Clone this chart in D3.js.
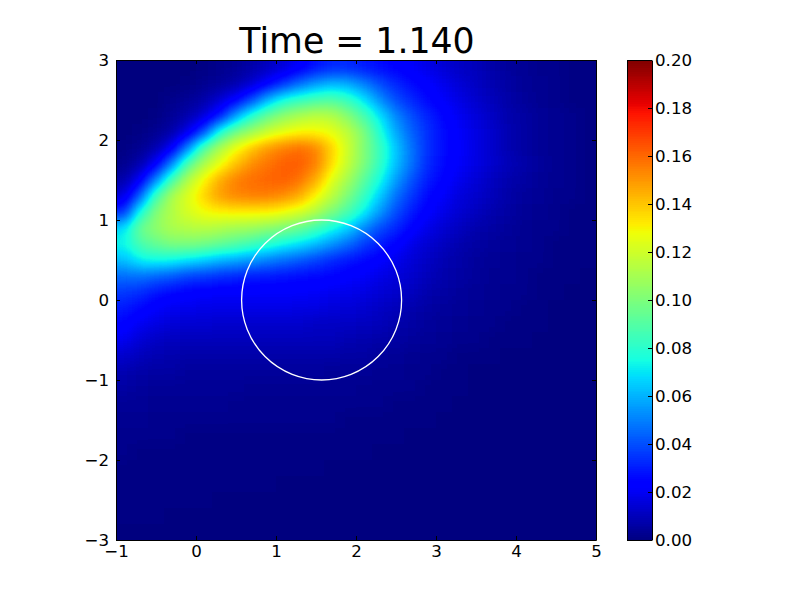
<!DOCTYPE html>
<html>
<head>
<meta charset="utf-8">
<script src="https://cdn.jsdelivr.net/npm/d3@7"></script>
<style>
  body { margin: 0; background: #fff; }
  text { font-family: "DejaVu Sans", sans-serif; fill: #000; }
  .tick text { font-size: 16.67px; }
  .tick line, .domain { stroke: #000; stroke-width: 1px; }
</style>
</head>
<body>
<div id="chart"></div>
<script>
var titleText = "Time = 1.140";

// cell centres of the field, every 0.2
var xCells = [-0.9,-0.7,-0.5,-0.3,-0.1,0.1,0.3,0.5,0.7,0.9,1.1,1.3,1.5,1.7,1.9,2.1,2.3,2.5,2.7,2.9,3.1,3.3,3.5,3.7,3.9,4.1,4.3,4.5,4.7,4.9];
var yCells = [2.9,2.7,2.5,2.3,2.1,1.9,1.7,1.5,1.3,1.1,0.9,0.7,0.5,0.3,0.1,-0.1,-0.3,-0.5,-0.7,-0.9,-1.1,-1.3,-1.5,-1.7,-1.9,-2.1,-2.3,-2.5,-2.7,-2.9];

// one row per yCells entry, estimated from the colours
var field = [
  [0,0,0,0,0,.001,.002,.004,.007,.011,.016,.022,.028,.032,.033,.03,.027,.024,.021,.018,.015,.012,.01,.007,.005,.004,.002,.002,.001,.001],
  [0,0,0,0,.001,.003,.005,.008,.014,.024,.035,.047,.056,.061,.059,.05,.04,.032,.027,.023,.019,.015,.012,.009,.006,.004,.003,.002,.001,.001],
  [0,0,0,.002,.004,.007,.014,.024,.04,.061,.077,.083,.088,.09,.083,.07,.053,.04,.032,.026,.021,.017,.013,.01,.007,.005,.003,.002,.001,.001],
  [0,0,.001,.004,.008,.015,.03,.057,.08,.096,.105,.112,.116,.114,.103,.088,.07,.052,.04,.031,.025,.02,.016,.012,.008,.006,.004,.003,.002,.001],
  [0,.001,.003,.007,.018,.04,.078,.098,.109,.119,.126,.13,.13,.126,.116,.1,.078,.058,.044,.034,.027,.021,.017,.013,.009,.006,.004,.003,.002,.001],
  [.001,.003,.008,.021,.052,.09,.112,.128,.14,.15,.155,.159,.154,.137,.12,.102,.084,.064,.047,.034,.027,.022,.017,.013,.009,.006,.004,.003,.002,.001],
  [.002,.008,.022,.052,.09,.112,.127,.141,.152,.158,.162,.162,.155,.135,.118,.1,.082,.063,.047,.033,.026,.021,.017,.013,.01,.007,.005,.003,.002,.001],
  [.007,.021,.052,.088,.114,.13,.146,.155,.159,.161,.162,.158,.145,.125,.11,.092,.075,.056,.041,.03,.024,.019,.015,.011,.008,.006,.004,.003,.002,.001],
  [.016,.044,.086,.112,.124,.137,.149,.154,.155,.155,.152,.145,.13,.115,.1,.083,.065,.047,.035,.026,.021,.016,.013,.01,.007,.005,.004,.002,.002,.001],
  [.034,.076,.102,.114,.122,.129,.131,.132,.132,.131,.128,.122,.113,.1,.088,.072,.055,.04,.03,.023,.018,.014,.011,.008,.006,.004,.003,.002,.001,.001],
  [.068,.096,.105,.112,.114,.115,.113,.11,.108,.104,.1,.095,.086,.075,.066,.052,.04,.032,.024,.018,.014,.011,.008,.006,.005,.003,.002,.002,.001,.001],
  [.074,.088,.095,.1,.1,.098,.094,.09,.085,.08,.074,.069,.062,.054,.046,.037,.03,.024,.018,.014,.011,.008,.006,.005,.004,.003,.002,.001,.001,.001],
  [.063,.072,.075,.074,.07,.066,.061,.058,.055,.05,.046,.042,.038,.033,.029,.026,.023,.019,.015,.012,.009,.007,.005,.004,.003,.002,.002,.001,.001,.001],
  [.046,.048,.045,.042,.038,.036,.034,.032,.03,.029,.028,.027,.026,.025,.023,.021,.018,.016,.013,.01,.008,.006,.005,.003,.003,.002,.001,.001,.001,0],
  [.036,.034,.029,.026,.024,.023,.022,.022,.022,.022,.022,.022,.021,.02,.019,.017,.015,.013,.011,.008,.006,.005,.004,.003,.002,.002,.001,.001,0,0],
  [.03,.026,.022,.02,.019,.018,.018,.018,.018,.018,.018,.017,.017,.016,.015,.014,.012,.01,.008,.006,.005,.004,.003,.002,.002,.001,.001,0,0,0],
  [.025,.02,.017,.015,.014,.014,.013,.013,.013,.013,.013,.013,.012,.012,.012,.011,.01,.008,.006,.005,.004,.003,.002,.002,.001,.001,.001,0,0,0],
  [.02,.015,.012,.011,.01,.01,.01,.01,.01,.01,.01,.01,.01,.01,.009,.008,.007,.006,.005,.004,.003,.002,.002,.001,.001,.001,0,0,0,0],
  [.013,.01,.009,.008,.007,.007,.007,.007,.007,.007,.007,.007,.007,.007,.006,.006,.005,.004,.003,.002,.002,.001,.001,.001,0,0,0,0,0,0],
  [.009,.007,.006,.006,.005,.005,.005,.005,.005,.005,.005,.005,.005,.004,.004,.004,.003,.003,.002,.002,.001,.001,0,0,0,0,0,0,0,0],
  [.006,.005,.004,.004,.004,.004,.004,.004,.003,.003,.003,.003,.003,.003,.003,.002,.002,.002,.002,.001,.001,.001,0,0,0,0,0,0,0,0],
  [.004,.004,.003,.003,.003,.003,.003,.002,.002,.002,.002,.002,.002,.002,.002,.002,.002,.001,.001,.001,.001,0,0,0,0,0,0,0,0,0],
  [.003,.003,.002,.002,.002,.002,.002,.002,.002,.002,.002,.002,.002,.002,.001,.001,.001,.001,.001,.001,0,0,0,0,0,0,0,0,0,0],
  [.002,.002,.002,.002,.001,.001,.001,.001,.001,.001,.001,.001,.001,.001,.001,.001,.001,.001,0,0,0,0,0,0,0,0,0,0,0,0],
  [.002,.001,.001,.001,.001,.001,.001,.001,.001,.001,.001,.001,.001,.001,.001,.001,0,0,0,0,0,0,0,0,0,0,0,0,0,0],
  [.001,.001,.001,.001,.001,.001,.001,.001,.001,.001,.001,.001,.001,0,0,0,0,0,0,0,0,0,0,0,0,0,0,0,0,0],
  [.001,.001,.001,.001,.001,.001,.001,.001,.001,.001,0,0,0,0,0,0,0,0,0,0,0,0,0,0,0,0,0,0,0,0],
  [.001,.001,.001,.001,.001,.001,0,0,0,0,0,0,0,0,0,0,0,0,0,0,0,0,0,0,0,0,0,0,0,0],
  [.001,.001,.001,0,0,0,0,0,0,0,0,0,0,0,0,0,0,0,0,0,0,0,0,0,0,0,0,0,0,0],
  [0,0,0,0,0,0,0,0,0,0,0,0,0,0,0,0,0,0,0,0,0,0,0,0,0,0,0,0,0,0]
];

var xTicks = [-1, 0, 1, 2, 3, 4, 5];
var yTicks = [-3, -2, -1, 0, 1, 2, 3];
var barTicks = [0, 0.02, 0.04, 0.06, 0.08, 0.1, 0.12, 0.14, 0.16, 0.18, 0.2];

// the white circle
var circleCentre = [1.57, 0];
var circleRadius = 1;

// jet colormap stops
var jetRed = [[0, 0], [0.35, 0], [0.66, 1], [0.89, 1], [1, 0.5]];
var jetGreen = [[0, 0], [0.125, 0], [0.375, 1], [0.64, 1], [0.91, 0], [1, 0]];
var jetBlue = [[0, 0.5], [0.11, 1], [0.34, 1], [0.65, 0], [1, 0]];

var margin = { top: 60, left: 116 },
  width = 480,
  height = 480,
  barLeft = 627,
  barWidth = 25;

function channel(stops) {
  return d3.scaleLinear()
    .domain(stops.map(function (d) { return d[0] * 0.2; }))
    .range(stops.map(function (d) { return d[1] * 255; }))
    .clamp(true);
}
var r = channel(jetRed), g = channel(jetGreen), b = channel(jetBlue);
var color = function (v) {
  return "rgb(" + Math.round(r(v)) + "," + Math.round(g(v)) + "," + Math.round(b(v)) + ")";
};

var svg = d3.select("#chart").append("svg")
  .attr("width", 800)
  .attr("height", 600)
  .style("display", "block");

// the cells are painted in grey = value, blurred, then the grey is mapped through jet
var grey = d3.scaleLinear().domain([0, 0.2]).range([0, 255]);
var table = function (ch) {
  return d3.range(256).map(function (k) { return (ch(grey.invert(k)) / 255).toFixed(4); }).join(" ");
};

var defs = svg.append("defs");
defs.append("clipPath").attr("id", "plot-clip")
  .append("rect").attr("width", width).attr("height", height);
var smooth = defs.append("filter").attr("id", "smooth")
  .attr("filterUnits", "userSpaceOnUse")
  .attr("color-interpolation-filters", "sRGB")
  .attr("x", -40).attr("y", -40).attr("width", width + 80).attr("height", height + 80);
smooth.append("feGaussianBlur").attr("stdDeviation", 7);
var transfer = smooth.append("feComponentTransfer");
transfer.append("feFuncR").attr("type", "table").attr("tableValues", table(r));
transfer.append("feFuncG").attr("type", "table").attr("tableValues", table(g));
transfer.append("feFuncB").attr("type", "table").attr("tableValues", table(b));

var plot = svg.append("g")
  .attr("transform", "translate(" + margin.left + "," + margin.top + ")");

var x = d3.scaleLinear().domain([-1, 5]).range([0, width]);
var y = d3.scaleLinear().domain([-3, 3]).range([height, 0]);
var xBand = d3.scaleBand().domain(xCells).range([0, width]);
var yBand = d3.scaleBand().domain(yCells).range([0, height]);

// border cells run on past the frame so the blur does not fade at the edge
var pad = 30;
var cells = [];
field.forEach(function (row, j) {
  row.forEach(function (v, i) {
    cells.push({ i: i, j: j, v: v });
  });
});
plot.append("g").attr("clip-path", "url(#plot-clip)")
  .append("g").attr("filter", "url(#smooth)")
  .selectAll("rect")
  .data(cells)
  .enter().append("rect")
  .attr("x", function (d) { return xBand(xCells[d.i]) - (d.i === 0 ? pad : 0); })
  .attr("y", function (d) { return yBand(yCells[d.j]) - (d.j === 0 ? pad : 0); })
  .attr("width", function (d) {
    return xBand.bandwidth() + (d.i === 0 || d.i === xCells.length - 1 ? pad : 0);
  })
  .attr("height", function (d) {
    return yBand.bandwidth() + (d.j === 0 || d.j === yCells.length - 1 ? pad : 0);
  })
  .attr("shape-rendering", "crispEdges")
  .attr("fill", function (d) { var c = Math.round(grey(d.v)); return "rgb(" + c + "," + c + "," + c + ")"; });

plot.append("ellipse")
  .attr("cx", x(circleCentre[0]))
  .attr("cy", y(circleCentre[1]))
  .attr("rx", x(circleRadius) - x(0))
  .attr("ry", y(0) - y(circleRadius))
  .attr("fill", "none")
  .attr("stroke", "#fff")
  .attr("stroke-width", 1.3);

// axes, ticks point inward on all four sides
var fmtMinus = function (d) { return d3.format("d")(d).replace("-", "\u2212"); };

plot.append("g")
  .attr("transform", "translate(0," + height + ")")
  .call(d3.axisBottom(x).tickValues(xTicks).tickFormat(fmtMinus).tickSize(-4).tickSizeOuter(0).tickPadding(5));
plot.append("g")
  .call(d3.axisTop(x).tickValues(xTicks).tickFormat("").tickSize(-4).tickSizeOuter(0));
plot.append("g")
  .call(d3.axisLeft(y).tickValues(yTicks).tickFormat(fmtMinus).tickSize(-4).tickSizeOuter(0).tickPadding(7));
plot.append("g")
  .attr("transform", "translate(" + width + ",0)")
  .call(d3.axisRight(y).tickValues(yTicks).tickFormat("").tickSize(-4).tickSizeOuter(0));

plot.append("text")
  .attr("x", width / 2 + 1)
  .attr("y", -7)
  .attr("text-anchor", "middle")
  .style("font-size", "34.7px")
  .text(titleText);

// colorbar
var barScale = d3.scaleLinear().domain([0, 0.2]).range([height, 0]);
var levels = d3.range(256).map(function (k) { return (k + 0.5) / 256 * 0.2; });
var bar = svg.append("g")
  .attr("transform", "translate(" + barLeft + "," + margin.top + ")");

bar.selectAll("rect")
  .data(levels)
  .enter().append("rect")
  .attr("x", 0)
  .attr("y", function (d) { return barScale(d) - height / 512; })
  .attr("width", barWidth)
  .attr("height", height / 256 + 0.5)
  .attr("shape-rendering", "crispEdges")
  .attr("fill", function (d) { return color(d); });

bar.append("g")
  .attr("transform", "translate(" + barWidth + ",0)")
  .call(d3.axisRight(barScale).tickValues(barTicks).tickFormat(d3.format(".2f")).tickSize(-4).tickSizeOuter(0).tickPadding(3));
bar.append("g")
  .call(d3.axisLeft(barScale).tickValues([]).tickSizeOuter(0));
bar.append("line").attr("x1", 0).attr("x2", barWidth).attr("y1", 0.5).attr("y2", 0.5).attr("stroke", "#000");
bar.append("line").attr("x1", 0).attr("x2", barWidth).attr("y1", height + 0.5).attr("y2", height + 0.5).attr("stroke", "#000");
</script>
</body>
</html>
